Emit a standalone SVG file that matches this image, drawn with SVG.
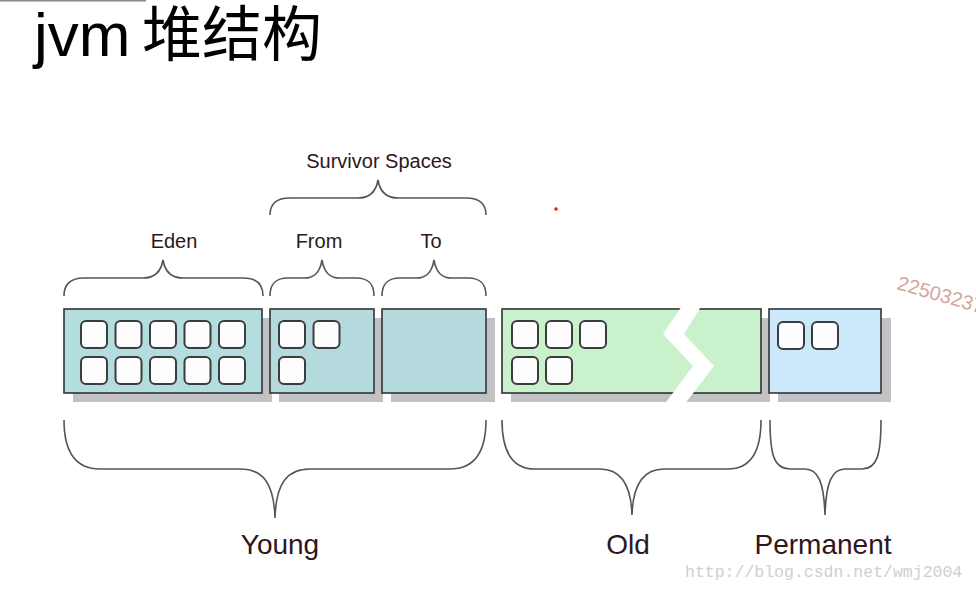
<svg xmlns="http://www.w3.org/2000/svg" width="976" height="592" viewBox="0 0 976 592">
<style>
.lbl{font-family:"Liberation Sans",Arial,sans-serif;fill:#2e1620;text-anchor:middle}
.sm{font-size:20px}
.lg{font-size:28px}
.shadow{fill:#c2c2c4}
.box{stroke:#2f3436;stroke-width:1.6}
.cell{fill:#fdfdfd;stroke:#3a3c3e;stroke-width:2}
.brace{fill:none;stroke:#555;stroke-width:1.6}
</style>
<defs>
<rect id="c" class="cell" width="26" height="27" rx="5"/>
</defs>
<rect width="976" height="592" fill="#ffffff"/>
<line x1="0" y1="0.5" x2="146" y2="0.5" stroke="#8a8a8a" stroke-width="2"/>
<g id="title">
<text y="56" fill="#000" font-family="&quot;Liberation Sans&quot;,&quot;Noto Sans CJK SC&quot;,sans-serif"><tspan x="34" font-size="62">jvm</tspan><tspan x="142" font-size="60">堆结构</tspan></text>
</g>
<g id="shadows">
<rect class="shadow" x="73" y="318" width="199" height="84"/>
<rect class="shadow" x="279" y="318" width="104" height="84"/>
<rect class="shadow" x="391" y="318" width="104" height="84"/>
<rect class="shadow" x="511" y="318" width="259" height="84"/>
<rect class="shadow" x="778" y="318" width="113" height="84"/>
</g>
<g id="eden">
<rect class="box" x="64" y="309" width="198" height="84" fill="#b4dde0"/>
<use href="#c" x="81" y="321"/><use href="#c" x="115.5" y="321"/><use href="#c" x="150" y="321"/><use href="#c" x="184.5" y="321"/><use href="#c" x="219" y="321"/>
<use href="#c" x="81" y="357"/><use href="#c" x="115.5" y="357"/><use href="#c" x="150" y="357"/><use href="#c" x="184.5" y="357"/><use href="#c" x="219" y="357"/>
</g>
<g id="from">
<rect class="box" x="270" y="309" width="104" height="84" fill="#b4dade"/>
<use href="#c" x="279" y="321"/><use href="#c" x="313.5" y="321"/>
<use href="#c" x="279" y="357"/>
</g>
<g id="to">
<rect class="box" x="382" y="309" width="104" height="84" fill="#b4dade"/>
</g>
<g id="old">
<rect class="box" x="502" y="309" width="259" height="84" fill="#c9f2cc"/>
<use href="#c" x="512" y="321"/><use href="#c" x="546" y="321"/><use href="#c" x="580" y="321"/>
<use href="#c" x="512" y="357"/><use href="#c" x="546" y="357"/>
<polygon points="686,300 705,300 684,334 714,366 684,405 664,405 693,366 663,334" fill="#ffffff"/>
</g>
<g id="permanent">
<rect class="box" x="769" y="309" width="112" height="84" fill="#cbe9fa"/>
<use href="#c" x="778" y="322"/><use href="#c" x="812" y="322"/>
</g>
<g id="connectors">
<path class="brace" d="M64,296 C64,284 70,278 84,278 L143,278 C155,278 161,272 163,260 C165,272 171,278 183,278 L243,278 C257,278 263,284 263,296"/>
<path class="brace" d="M270,296 C270,284 275,278 288,278 L304,278 C315,278 320,272 322,260 C324,272 329,278 340,278 L356,278 C369,278 374,284 374,296"/>
<path class="brace" d="M382,296 C382,284 387,278 400,278 L416,278 C427,278 432,272 434,260 C436,272 441,278 452,278 L468,278 C481,278 486,284 486,296"/>
<path class="brace" d="M270,215 C270,204 276,198 290,198 L358,198 C370,198 376,192 378,180 C380,192 386,198 398,198 L466,198 C480,198 486,204 486,215"/>
<path class="brace" d="M64,420 C64,452 75,469 100,469 L240,469 C262,469 274,482 275,518 C276,482 288,469 310,469 L450,469 C475,469 486,452 486,420"/>
<path class="brace" d="M502,420 C502,452 512,469 535,469 L600,469 C619,469 631,482 632,515 C633,482 645,469 664,469 L728,469 C750,469 761,452 761,420"/>
<path class="brace" d="M770,420 C770,455 774,469 790,469 L805,469 C818,469 824,482 825,515 C826,482 832,469 845,469 L862,469 C877,469 881,455 881,420"/>
</g>
<g id="labels">
<text class="lbl sm" x="379" y="168">Survivor Spaces</text>
<text class="lbl sm" x="174" y="248">Eden</text>
<text class="lbl sm" x="319" y="248">From</text>
<text class="lbl sm" x="431" y="248">To</text>
<text class="lbl lg" x="280" y="554">Young</text>
<text class="lbl lg" x="628" y="554">Old</text>
<text class="lbl lg" x="823" y="554">Permanent</text>
</g>
<circle cx="556" cy="209" r="1.8" fill="#e02020"/>
<text x="896" y="289" transform="rotate(16 896 289)" font-size="20" fill="#d6a49c" font-family="&quot;Liberation Sans&quot;,Arial,sans-serif">22503237</text>
<text x="685" y="577" font-size="16.5" fill="#cfcfcf" font-family="&quot;Liberation Mono&quot;,&quot;Courier New&quot;,monospace">http://blog.csdn.net/wmj2004</text>
</svg>
